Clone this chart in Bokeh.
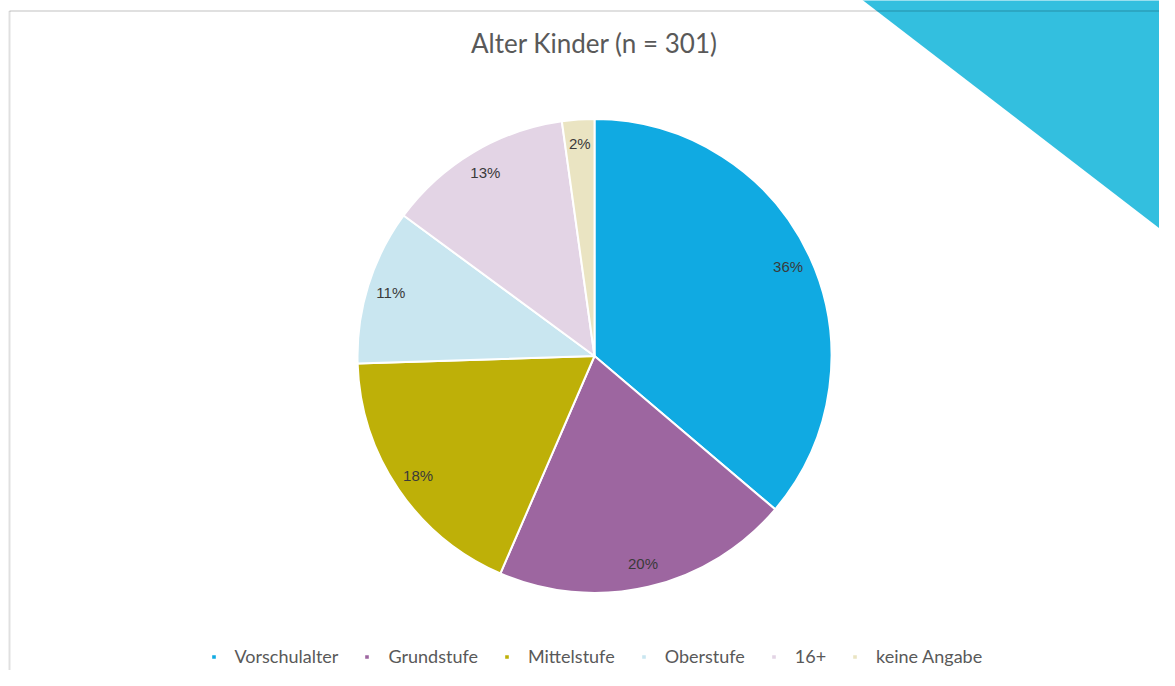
import math
from bokeh.plotting import figure
from bokeh.models import Range1d, ColumnDataSource, Legend, LegendItem
from bokeh.core.properties import value
from bokeh.embed import file_html
from bokeh.resources import INLINE

# ---- data ----
title_text = "Alter Kinder (n = 301)"
categories = ["Vorschulalter", "Grundstufe", "Mittelstufe", "Oberstufe", "16+", "keine Angabe"]
shares = [36.2, 20.3, 18.0, 10.6, 12.7, 2.2]
colors = ["#10AAE2", "#9D66A0", "#BEB008", "#C9E6F0", "#E3D4E5", "#EAE4C2"]

# ---- layout (data units = pixels, y measured from the top) ----
W, H = 1159, 670
def sx(x): return x
def sy(y): return H - y

cx, cy, R = sx(594), sy(355.5), 237.0

p = figure(width=W, height=H, output_backend="svg", toolbar_location=None,
           x_range=Range1d(0, W), y_range=Range1d(0, H), min_border=0)
p.axis.visible = False
p.grid.visible = False
p.outline_line_color = None
p.background_fill_color = "white"
p.border_fill_color = "white"

# decorative corner triangle and frame lines
p.patch([sx(860), sx(1180), sx(1180)], [sy(-2), sy(-2), sy(244)], fill_color="#33BFDF", line_color=None)
p.segment(x0=[sx(9), sx(9)], y0=[sy(10.5), sy(10.5)], x1=[sx(1180), sx(9)], y1=[sy(10.5), sy(700)],
          line_color="#000000", line_alpha=0.12, line_width=2)

# pie
total = float(sum(shares))
starts, ends, mids = [], [], []
acc = 0.0
for v in shares:
    a0 = math.pi / 2 - 2 * math.pi * acc / total
    acc += v
    a1 = math.pi / 2 - 2 * math.pi * acc / total
    starts.append(a1); ends.append(a0); mids.append((a0 + a1) / 2)

src = ColumnDataSource(dict(start=starts, end=ends, color=colors, label=categories,
                            x=[cx] * len(shares), y=[cy] * len(shares)))
wr = p.wedge(x="x", y="y", radius=R, start_angle="start", end_angle="end",
             fill_color="color", line_color="white", line_width=2, source=src)

lr = 0.9 * R
p.text(x=[cx + lr * math.cos(m) for m in mids], y=[cy + lr * math.sin(m) for m in mids],
       text=[f"{v:.0f}%" for v in shares], text_align="center", text_baseline="middle",
       text_font=value("Liberation Sans"), text_font_size="15px", text_color="#3A3A3A")

# title
p.text(x=[sx(594)], y=[sy(42)], text=[title_text], text_align="center", text_baseline="middle",
       text_font=value("Lato"), text_font_size="26px", text_color="#595959")

# legend
items = [LegendItem(label=c, renderers=[wr], index=i) for i, c in enumerate(categories)]
legend = Legend(items=items, orientation="horizontal", location=(sx(209.5), 3),
                glyph_width=7, glyph_height=7, label_standoff=18, spacing=25,
                padding=0, margin=0, border_line_color=None, background_fill_alpha=0,
                label_text_font="Lato", label_text_font_size="18px", label_text_color="#595959",
                label_height=18)
p.add_layout(legend)

open("out.html", "w").write(file_html(p, INLINE))
